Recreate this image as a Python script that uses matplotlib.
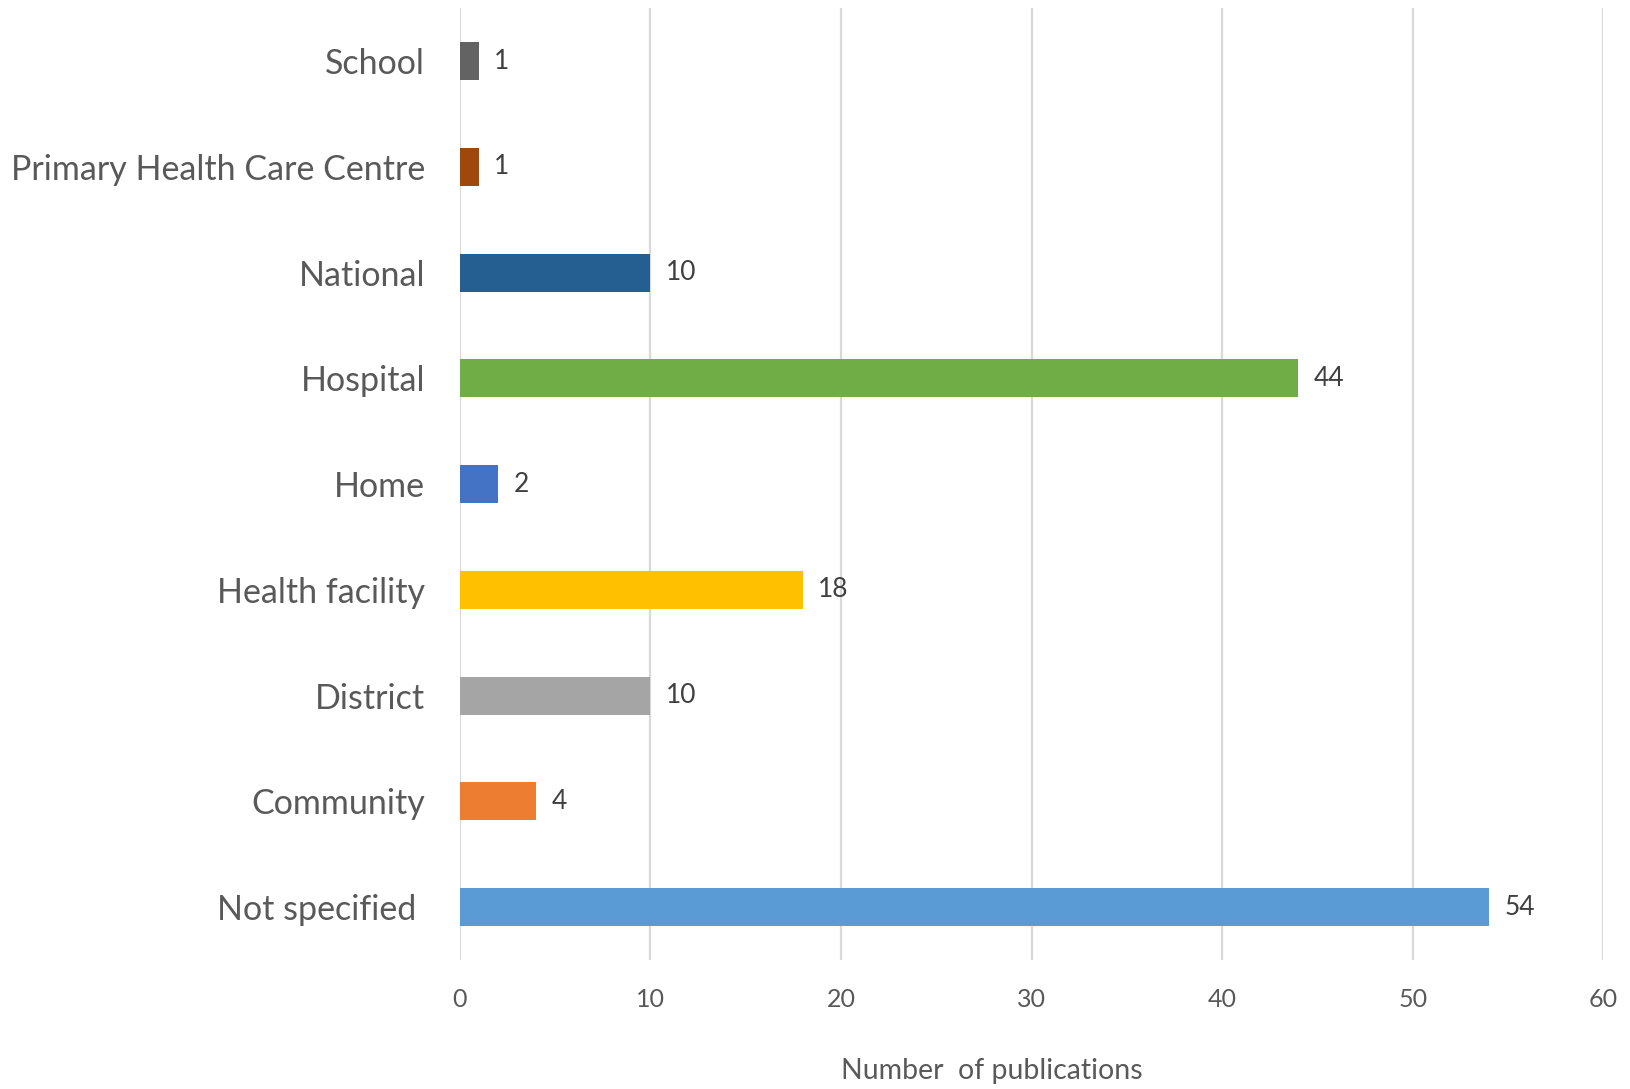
import matplotlib
matplotlib.use("Agg")
import matplotlib.pyplot as plt

categories = ["Not specified ", "Community", "District", "Health facility", "Home",
              "Hospital", "National", "Primary Health Care Centre", "School"]
counts = [54, 4, 10, 18, 2, 44, 10, 1, 1]
colors = ["#5B9BD5", "#ED7D31", "#A5A5A5", "#FFC000", "#4472C4",
          "#70AD47", "#255E91", "#9E480E", "#636363"]
xticks = [0, 10, 20, 30, 40, 50, 60]

plt.rcParams["font.family"] = ["Lato", "DejaVu Sans"]

fig = plt.figure(figsize=(16.31, 10.89), dpi=100)
ax = fig.add_axes([0.282, 0.1185, 0.701, 0.874])

y = range(len(categories))
ax.barh(y, counts, height=0.36, color=colors, zorder=3)
for yi, v in zip(y, counts):
    ax.text(v + 0.8, yi, str(v), va="center", ha="left", fontsize=19, color="#404040")

ax.set_xlim(0, 60)
ax.set_ylim(-0.5, len(categories) - 0.5)
ax.set_xticks(xticks)
ax.set_yticks(list(y))
ax.set_yticklabels(categories)
ax.tick_params(axis="y", length=0, pad=25, labelsize=24.5, labelcolor="#595959")
ax.tick_params(axis="x", length=0, pad=20, labelsize=18, labelcolor="#595959")
ax.grid(axis="x", color="#D9D9D9", linewidth=1.6, zorder=0)
for s in ax.spines.values():
    s.set_visible(False)
ax.set_xlabel("Number  of publications", fontsize=20.5, color="#595959", va="center")
ax.xaxis.set_label_coords(0.465, -0.117)

fig.savefig("out.png", dpi=100)
